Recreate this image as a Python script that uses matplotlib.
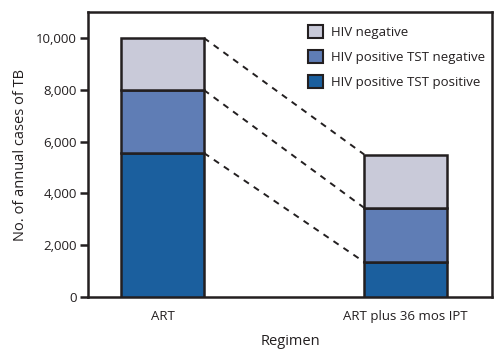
import matplotlib.pyplot as plt
from matplotlib.patches import Patch

# data
regimens = ["ART", "ART plus 36 mos IPT"]
series = ["HIV positive TST positive", "HIV positive TST negative", "HIV negative"]
tst_pos = [5560, 1350]
tst_neg = [2430, 2090]
hiv_neg = [2010, 2060]

colors = ["#1b5f9e", "#5f7db5", "#c9cad9"]
edge = "#231f20"

plt.rcParams["font.family"] = ["Open Sans", "DejaVu Sans"]

fig = plt.figure(figsize=(4.98, 3.54), dpi=100)
ax = fig.add_axes([0.1767, 0.161, 0.8113, 0.805])

x = [0, 1]
w = 0.34
bottom = [0, 0]
tops = []
for vals, c in zip([tst_pos, tst_neg, hiv_neg], colors):
    ax.bar(x, vals, width=w, bottom=bottom, color=c, edgecolor=edge, linewidth=1.8, zorder=3)
    bottom = [b + v for b, v in zip(bottom, vals)]
    tops.append(list(bottom))

# dashed connectors between cumulative levels
for t in tops:
    ax.plot([x[0] + w / 2, x[1] - w / 2], t, color=edge, linestyle=(0, (3.2, 3.0)),
            linewidth=1.4, zorder=2)

ax.set_xlim(-0.307, 1.356)
ax.set_ylim(0, 11000)
ax.set_yticks(range(0, 10001, 2000))
ax.set_yticklabels([f"{v:,}" for v in range(0, 10001, 2000)], fontsize=9.5, color=edge)
ax.set_xticks(x)
ax.set_xticklabels(regimens, fontsize=9.5, color=edge)
ax.tick_params(axis="x", length=0, pad=9)
ax.tick_params(axis="y", length=6, width=1.8, color=edge, pad=2)
for s in ax.spines.values():
    s.set_linewidth(1.8)
    s.set_color(edge)

ax.set_ylabel("No. of annual cases of TB", fontsize=10.5, color=edge, labelpad=6)
ax.set_xlabel("Regimen", fontsize=10.5, color=edge, labelpad=8)

handles = [Patch(facecolor=c, edgecolor=edge, linewidth=1.5) for c in colors[::-1]]
ax.legend(handles, series[::-1], loc="upper right", bbox_to_anchor=(1.015, 1.0),
          frameon=False, fontsize=9.5,
          handlelength=1.1, handleheight=1.1, handletextpad=0.6, labelspacing=0.85,
          borderaxespad=0.6, borderpad=0.4, labelcolor=edge)

fig.savefig("out.png", dpi=100)
